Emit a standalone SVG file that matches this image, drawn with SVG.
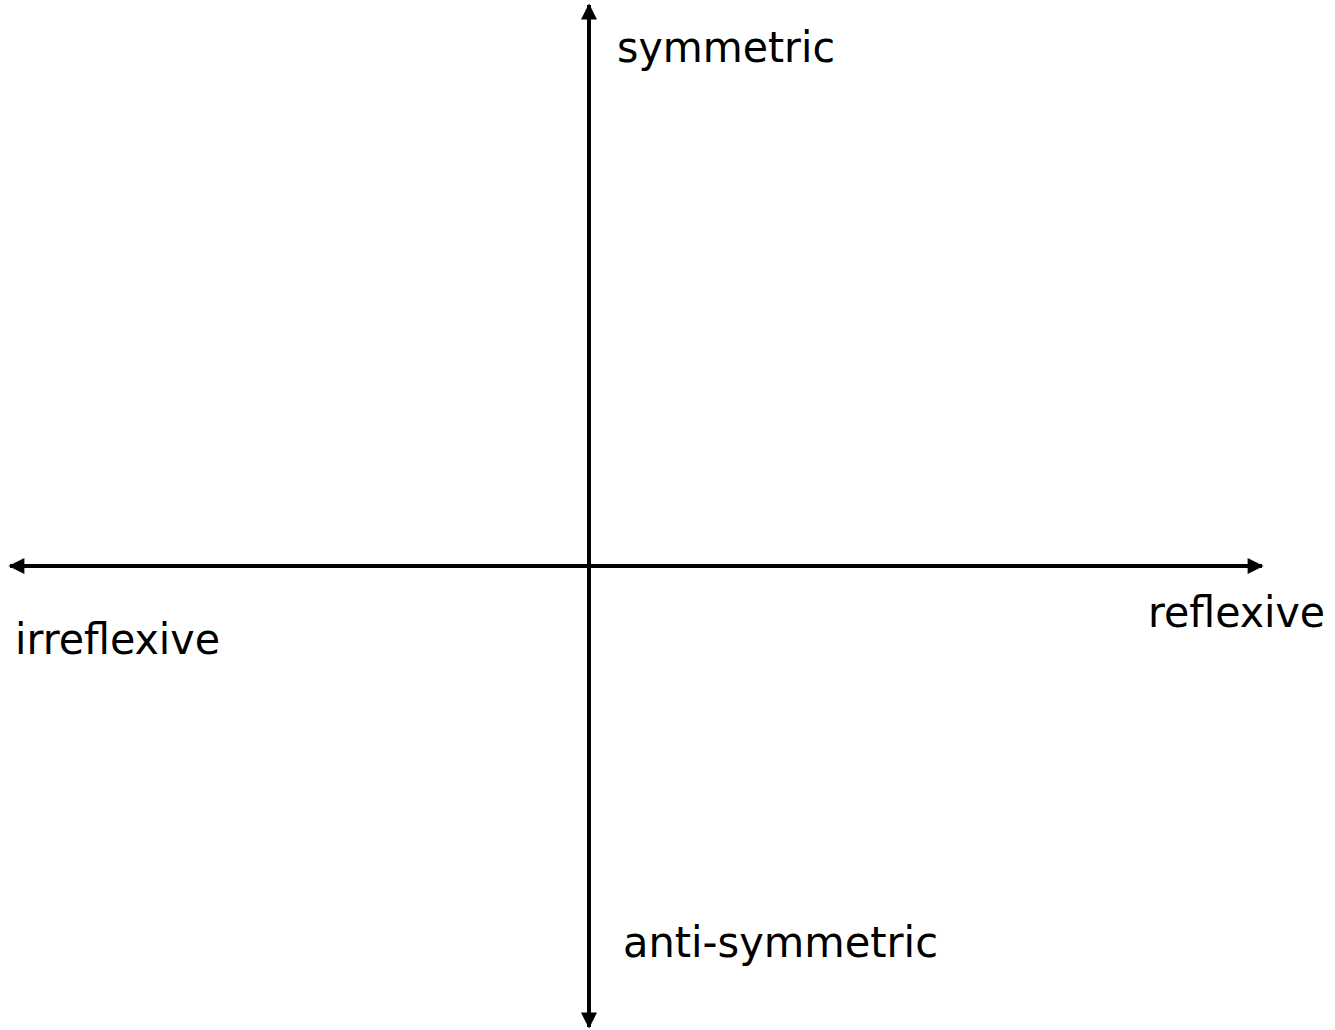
<svg xmlns="http://www.w3.org/2000/svg" width="1335" height="1030" viewBox="0 0 1335 1030">
<style>
.lbl{font-family:"DejaVu Sans","Liberation Sans",sans-serif;font-size:42px;fill:#000}
.ax{stroke:#000;stroke-width:4;fill:none}
</style>
<defs>
<marker id="ah" viewBox="0 0 10 10" refX="9" refY="5" markerWidth="4.5" markerHeight="4" orient="auto-start-reverse" markerUnits="strokeWidth">
<path d="M0,0 L10,5 L0,10 z" fill="#000"/>
</marker>
</defs>
<rect width="1335" height="1030" fill="#fff"/>
<g id="connectors">
<line class="ax" x1="589" y1="1027" x2="589" y2="5" marker-start="url(#ah)" marker-end="url(#ah)"/>
<line class="ax" x1="10" y1="566" x2="1262" y2="566" marker-start="url(#ah)" marker-end="url(#ah)"/>
</g>
<g id="symmetric"><text class="lbl" x="617" y="62" textLength="218" lengthAdjust="spacingAndGlyphs">symmetric</text></g>
<g id="irreflexive"><text class="lbl" x="15" y="654" textLength="205" lengthAdjust="spacingAndGlyphs">irreflexive</text></g>
<g id="reflexive"><text class="lbl" x="1148" y="627" textLength="177" lengthAdjust="spacingAndGlyphs">reflexive</text></g>
<g id="anti-symmetric"><text class="lbl" x="623" y="957" textLength="315" lengthAdjust="spacingAndGlyphs">anti-symmetric</text></g>
</svg>
